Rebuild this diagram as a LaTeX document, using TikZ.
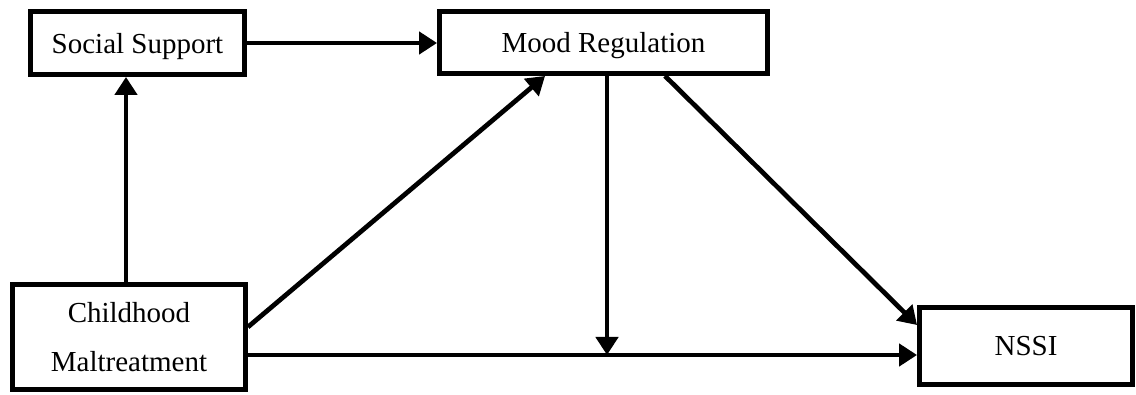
\documentclass[tikz,border=0pt]{standalone}
\usepackage{fontspec}
\setmainfont{Liberation Serif}
\usetikzlibrary{arrows.meta}
\begin{document}
\begin{tikzpicture}[%
      every node/.style={draw,line width=2.8pt,inner sep=0pt,
        font=\fontsize{16.5}{28}\selectfont,align=center},
      conn/.style={line width=2.7pt,-{Triangle[length=0.36cm,width=0.44cm]}}]
      \useasboundingbox (0,0) rectangle (22.72,7.88);
      \node[minimum width=4.28cm,minimum height=1.26cm,text depth=0pt] at(2.75,7.02)(soc){Social Support};
      \node[minimum width=6.56cm,minimum height=1.24cm,text depth=0pt] at(12.07,7.03)(mood){Mood Regulation};
      \node[minimum width=4.66cm,minimum height=2.1cm] at(2.58,1.14)(child)
      {Childhood\\Maltreatment};
      \node[minimum width=4.26cm,minimum height=1.54cm] at(20.52,0.96)(nssi){NSSI};
      \path ([yshift=-0.36cm]child.east) coordinate (cl)
      ([xshift=0.07cm]mood.south |- cl) coordinate (jn);
      \draw[conn](soc.east)--(soc.east -| mood.west);
      \draw[conn]([xshift=-0.06cm]child.north)--([xshift=-0.06cm]child.north |- soc.south);
      \draw[conn]([yshift=0.2cm]child.east)--([xshift=2.16cm]mood.south west);
      \draw[conn](cl)--(cl -| nssi.west);
      \draw[conn]([xshift=0.07cm]mood.south)--(jn);
      \draw[conn]([xshift=1.23cm]mood.south)--([yshift=0.42cm]nssi.west);
    \end{tikzpicture}
\end{document}
